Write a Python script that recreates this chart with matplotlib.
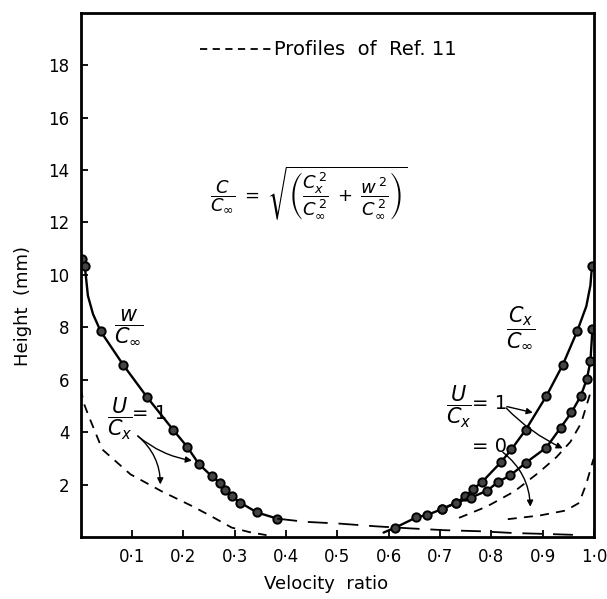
import matplotlib
matplotlib.use("Agg")
import matplotlib.pyplot as plt

# ---- data ----
# w/C_inf measured profile (line path and marker positions)
w_line_x = [0.0, 0.003, 0.008, 0.014, 0.024, 0.039, 0.083, 0.129, 0.180, 0.207, 0.230, 0.255, 0.272, 0.282, 0.294, 0.311, 0.343, 0.383]
w_line_y = [10.75, 10.6, 10.33, 9.2, 8.5, 7.84, 6.56, 5.34, 4.09, 3.45, 2.79, 2.32, 2.06, 1.81, 1.57, 1.31, 0.94, 0.70]
w_mark_x = [0.003, 0.008, 0.039, 0.083, 0.129, 0.180, 0.207, 0.230, 0.255, 0.272, 0.282, 0.294, 0.311, 0.343, 0.383]
w_mark_y = [10.6, 10.33, 7.84, 6.56, 5.34, 4.09, 3.45, 2.79, 2.32, 2.06, 1.81, 1.57, 1.31, 0.94, 0.70]

# Cx/C_inf, U/Cx = 1 (outer curve)
cx1_line_x = [0.59, 0.613, 0.654, 0.675, 0.703, 0.732, 0.749, 0.765, 0.782, 0.819, 0.839, 0.867, 0.907, 0.939, 0.967, 0.985, 0.993, 0.996]
cx1_line_y = [0.17, 0.36, 0.75, 0.84, 1.06, 1.31, 1.55, 1.84, 2.10, 2.86, 3.34, 4.09, 5.37, 6.56, 7.84, 8.8, 9.6, 10.33]
cx1_mark_x = [0.613, 0.654, 0.675, 0.703, 0.732, 0.749, 0.765, 0.782, 0.819, 0.839, 0.867, 0.907, 0.939, 0.967, 0.996]
cx1_mark_y = [0.36, 0.75, 0.84, 1.06, 1.31, 1.55, 1.84, 2.10, 2.86, 3.34, 4.09, 5.37, 6.56, 7.84, 10.33]

# Cx/C_inf, U/Cx = 0 (inner curve)
cx0_x = [0.703, 0.732, 0.760, 0.792, 0.813, 0.837, 0.867, 0.907, 0.935, 0.956, 0.974, 0.986, 0.993, 0.997]
cx0_y = [1.06, 1.31, 1.50, 1.77, 2.10, 2.35, 2.83, 3.41, 4.17, 4.75, 5.37, 6.02, 6.70, 7.95]

# Profiles of Ref. 11 (dashed)
ref_w_x = [0.0, 0.006, 0.015, 0.042, 0.097, 0.158, 0.219, 0.260, 0.294, 0.328, 0.362]
ref_w_y = [5.66, 5.1, 4.64, 3.34, 2.39, 1.74, 1.16, 0.73, 0.36, 0.19, 0.07]
ref_long_x = [0.383, 0.437, 0.505, 0.573, 0.641, 0.709, 0.777, 0.845, 0.90, 0.98]
ref_long_y = [0.70, 0.58, 0.51, 0.41, 0.33, 0.26, 0.22, 0.15, 0.12, 0.07]
ref_cx1_x = [0.737, 0.791, 0.845, 0.893, 0.927, 0.954, 0.975, 0.992]
ref_cx1_y = [0.73, 1.16, 1.74, 2.47, 3.05, 3.63, 4.35, 5.44]
ref_cx0_x = [0.832, 0.894, 0.945, 0.971, 0.985, 0.999]
ref_cx0_y = [0.68, 0.82, 1.01, 1.30, 2.03, 2.98]

x_ticks = [0.1, 0.2, 0.3, 0.4, 0.5, 0.6, 0.7, 0.8, 0.9, 1.0]
x_tick_labels = ["0·1", "0·2", "0·3", "0·4", "0·5", "0·6", "0·7", "0·8", "0·9", "1·0"]
y_ticks = [2, 4, 6, 8, 10, 12, 14, 16, 18]

# ---- figure ----
fig = plt.figure(figsize=(6.07, 5.99), dpi=100)
ax = fig.add_axes([0.133, 0.1035, 0.8456, 0.8753])
ax.set_xlim(0, 1.0)
ax.set_ylim(0, 20)

solid = dict(color="black", lw=1.7, solid_capstyle="round")
mk = dict(ls="none", marker="o", ms=6, mfc="#444444", mec="black", mew=1.4)

ax.plot(w_line_x, w_line_y, **solid)
ax.plot(w_mark_x, w_mark_y, **mk)
ax.plot(cx1_line_x, cx1_line_y, **solid)
ax.plot(cx1_mark_x, cx1_mark_y, **mk)
ax.plot(cx0_x, cx0_y, **solid)
ax.plot(cx0_x, cx0_y, **mk)

dash = dict(color="black", lw=1.3, dashes=(5, 4))
ax.plot(ref_w_x, ref_w_y, **dash)
ax.plot(ref_cx1_x, ref_cx1_y, **dash)
ax.plot(ref_cx0_x, ref_cx0_y, **dash)
ax.plot(ref_long_x, ref_long_y, color="black", lw=1.3, dashes=(11, 6))

# legend-like label
ax.plot([0.233, 0.372], [18.6, 18.6], color="black", lw=1.3, dashes=(4, 3))
ax.text(0.376, 18.6, "Profiles  of  Ref. 11", fontsize=14, va="center", ha="left")

# formula
ax.text(0.445, 13.1,
        r"$\dfrac{C}{C_\infty}\;=\;\sqrt{\left(\dfrac{C_x^{\,2}}{C_\infty^{\,2}}\;+\;\dfrac{w^{\,2}}{C_\infty^{\,2}}\right)}$",
        fontsize=13, ha="center", va="center")

# curve labels
ax.text(0.093, 8.0, r"$\dfrac{w}{C_\infty}$", fontsize=15, ha="center", va="center")
ax.text(0.858, 8.0, r"$\dfrac{C_x}{C_\infty}$", fontsize=15, ha="center", va="center")

# left annotation
ax.text(0.076, 4.5, r"$\dfrac{U}{C_x}$", fontsize=15, ha="center", va="center")
ax.text(0.100, 4.72, "= 1", fontsize=14, ha="left", va="center")
ap = dict(arrowstyle="-|>", color="black", lw=1.0, mutation_scale=9)
ax.annotate("", xy=(0.222, 2.9), xytext=(0.107, 3.92),
            arrowprops=dict(ap, connectionstyle="arc3,rad=0.15"))
ax.annotate("", xy=(0.155, 1.9), xytext=(0.107, 3.92),
            arrowprops=dict(ap, connectionstyle="arc3,rad=-0.25"))

# right annotation
ax.text(0.737, 4.95, r"$\dfrac{U}{C_x}$", fontsize=15, ha="center", va="center")
ax.text(0.762, 5.1, "= 1", fontsize=14, ha="left", va="center")
ax.annotate("", xy=(0.886, 4.72), xytext=(0.825, 5.0),
            arrowprops=dict(ap, connectionstyle="arc3,rad=0.0"))
ax.annotate("", xy=(0.944, 3.34), xytext=(0.825, 5.0),
            arrowprops=dict(ap, connectionstyle="arc3,rad=0.1"))
ax.text(0.762, 3.45, "= 0", fontsize=14, ha="left", va="center")
ax.annotate("", xy=(0.876, 1.05), xytext=(0.818, 3.3),
            arrowprops=dict(ap, connectionstyle="arc3,rad=-0.25"))

# axes styling
for s in ax.spines.values():
    s.set_linewidth(2.0)
ax.set_xticks(x_ticks)
ax.set_xticklabels(x_tick_labels)
ax.set_yticks(y_ticks)
ax.tick_params(direction="in", length=5, width=1.3, labelsize=12, pad=8)
ax.set_xlabel("Velocity  ratio", fontsize=13)
ax.set_ylabel("Height  (mm)", fontsize=13)
ax.xaxis.set_label_coords(0.478, -0.072)
ax.yaxis.set_label_coords(-0.095, 0.44)

fig.savefig("out.png", dpi=100)
